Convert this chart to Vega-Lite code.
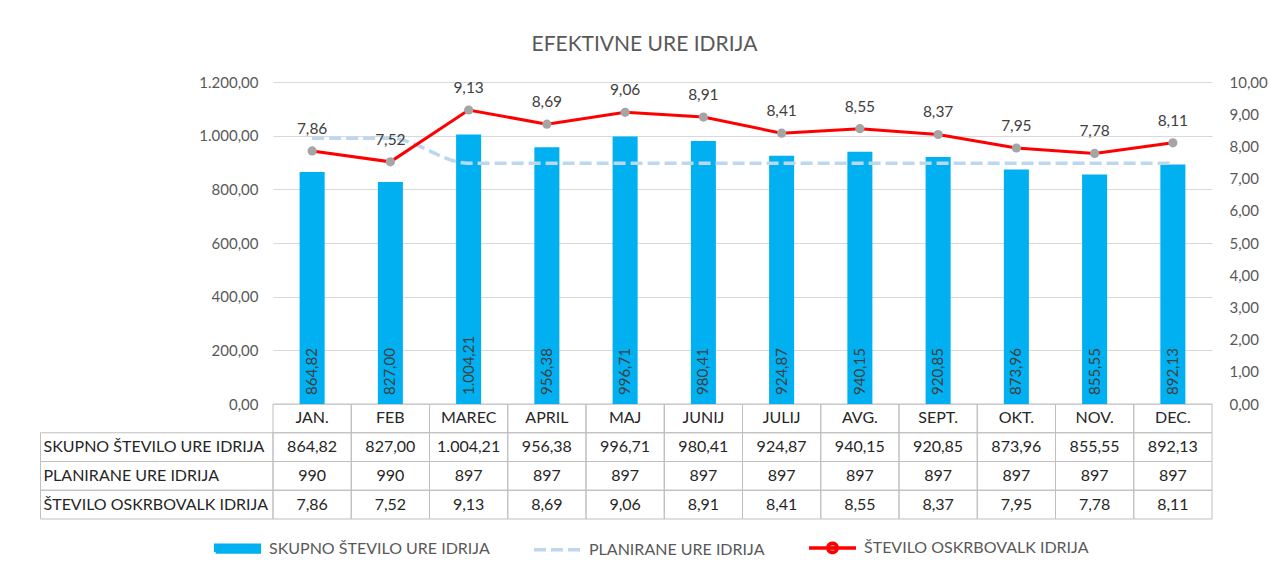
{
  "$schema": "https://vega.github.io/schema/vega-lite/v6.json",
  "width": 939,
  "height": 322,
  "autosize": {"type": "none"},
  "padding": {"left": 273, "top": 82, "right": 58, "bottom": 162},
  "background": "white",
  "title": {
    "text": "EFEKTIVNE URE IDRIJA",
    "font": "Lato",
    "fontSize": 21,
    "fontWeight": "normal",
    "color": "#595959",
    "anchor": "middle",
    "frame": "group",
    "dx": -98,
    "offset": 20
  },
  "config": {
    "font": "Lato",
    "view": {"stroke": null},
    "legend": {"symbolFillColor": "transparent"},
    "locale": {
      "number": {"decimal": ",", "thousands": ".", "grouping": [3], "currency": ["", " €"]}
    }
  },
  "datasets": {
    "mesci": [
      {"mesec": "JAN.", "skupno": 864.82, "planirane": 990, "oskrb": 7.86},
      {"mesec": "FEB", "skupno": 827.00, "planirane": 990, "oskrb": 7.52},
      {"mesec": "MAREC", "skupno": 1004.21, "planirane": 897, "oskrb": 9.13},
      {"mesec": "APRIL", "skupno": 956.38, "planirane": 897, "oskrb": 8.69},
      {"mesec": "MAJ", "skupno": 996.71, "planirane": 897, "oskrb": 9.06},
      {"mesec": "JUNIJ", "skupno": 980.41, "planirane": 897, "oskrb": 8.91},
      {"mesec": "JULIJ", "skupno": 924.87, "planirane": 897, "oskrb": 8.41},
      {"mesec": "AVG.", "skupno": 940.15, "planirane": 897, "oskrb": 8.55},
      {"mesec": "SEPT.", "skupno": 920.85, "planirane": 897, "oskrb": 8.37},
      {"mesec": "OKT.", "skupno": 873.96, "planirane": 897, "oskrb": 7.95},
      {"mesec": "NOV.", "skupno": 855.55, "planirane": 897, "oskrb": 7.78},
      {"mesec": "DEC.", "skupno": 892.13, "planirane": 897, "oskrb": 8.11}
    ],
    "serije": [
      {"kljuc": "skupno", "naziv": "SKUPNO ŠTEVILO URE IDRIJA"},
      {"kljuc": "planirane", "naziv": "PLANIRANE URE IDRIJA"},
      {"kljuc": "oskrb", "naziv": "ŠTEVILO OSKRBOVALK IDRIJA"}
    ]
  },
  "resolve": {"scale": {"x": "independent", "y": "independent"}},
  "layer": [
    {
      "data": {"name": "serije"},
      "mark": {"type": "point", "filled": true, "opacity": 0, "strokeWidth": 3.5},
      "encoding": {
        "fill": {
          "field": "naziv", "type": "nominal",
          "scale": {"domain": ["SKUPNO ŠTEVILO URE IDRIJA", "PLANIRANE URE IDRIJA", "ŠTEVILO OSKRBOVALK IDRIJA"], "range": ["#00B0F0", "transparent", "#A5A5A5"]},
          "legend": {
            "orient": "none", "legendX": -61, "legendY": 440, "direction": "horizontal",
            "title": null, "symbolSize": 2209, "symbolOpacity": 1, "symbolStrokeWidth": 3.5,
            "labelFont": "Lato", "labelFontSize": 16, "labelColor": "#595959", "labelLimit": 400,
            "labelOffset": 6, "columnPadding": 37
          }
        },
        "stroke": {
          "field": "naziv", "type": "nominal",
          "scale": {"domain": ["SKUPNO ŠTEVILO URE IDRIJA", "PLANIRANE URE IDRIJA", "ŠTEVILO OSKRBOVALK IDRIJA"], "range": ["#00B0F0", "#BDD7EE", "#FF0000"]}
        },
        "shape": {
          "field": "naziv", "type": "nominal",
          "scale": {"domain": ["SKUPNO ŠTEVILO URE IDRIJA", "PLANIRANE URE IDRIJA", "ŠTEVILO OSKRBOVALK IDRIJA"], "range": ["M-0.93,-0.14H0.93V0.14H-0.93Z", "M-1,0H1", "M-1,0H1M0.2,0A0.2,0.2,0,1,1,-0.2,0A0.2,0.2,0,1,1,0.2,0"]}
        },
        "strokeDash": {
          "field": "naziv", "type": "nominal",
          "scale": {"domain": ["SKUPNO ŠTEVILO URE IDRIJA", "PLANIRANE URE IDRIJA", "ŠTEVILO OSKRBOVALK IDRIJA"], "range": [[1, 0], [12, 5], [1, 0]]}
        }
      }
    },
    {
      "data": {"name": "mesci"},
      "transform": [{"fold": ["skupno", "planirane", "oskrb"], "as": ["kljuc", "vrednost"]}],
      "mark": {"type": "rect", "fillOpacity": 0, "stroke": "#BFBFBF", "strokeWidth": 1},
      "encoding": {
        "x": {"field": "mesec", "type": "nominal", "sort": null, "axis": null,
              "scale": {"type": "band", "domain": ["JAN.", "FEB", "MAREC", "APRIL", "MAJ", "JUNIJ", "JULIJ", "AVG.", "SEPT.", "OKT.", "NOV.", "DEC."], "paddingInner": 0, "paddingOuter": 0}},
        "y": {"field": "kljuc", "type": "nominal", "axis": null,
              "scale": {"type": "band", "domain": ["hdr", "skupno", "planirane", "oskrb"], "range": [322, 437], "paddingInner": 0, "paddingOuter": 0}}
      }
    },
    {
      "data": {"name": "mesci"},
      "mark": {"type": "rect", "fillOpacity": 0, "stroke": "#BFBFBF", "strokeWidth": 1},
      "encoding": {
        "x": {"field": "mesec", "type": "nominal", "sort": null, "axis": null,
              "scale": {"type": "band", "domain": ["JAN.", "FEB", "MAREC", "APRIL", "MAJ", "JUNIJ", "JULIJ", "AVG.", "SEPT.", "OKT.", "NOV.", "DEC."], "paddingInner": 0, "paddingOuter": 0}},
        "y": {"datum": "hdr", "type": "nominal", "axis": null,
              "scale": {"type": "band", "domain": ["hdr", "skupno", "planirane", "oskrb"], "range": [322, 437], "paddingInner": 0, "paddingOuter": 0}}
      }
    },
    {
      "data": {"name": "serije"},
      "mark": {"type": "rect", "fillOpacity": 0, "stroke": "#BFBFBF", "strokeWidth": 1},
      "encoding": {
        "x": {"datum": "lbl", "type": "nominal", "axis": null,
              "scale": {"type": "band", "domain": ["lbl"], "range": [-232.5, 0], "paddingInner": 0, "paddingOuter": 0}},
        "y": {"field": "kljuc", "type": "nominal", "axis": null,
              "scale": {"type": "band", "domain": ["hdr", "skupno", "planirane", "oskrb"], "range": [322, 437], "paddingInner": 0, "paddingOuter": 0}}
      }
    },
    {
      "data": {"name": "mesci"},
      "mark": {"type": "bar", "color": "#00B0F0", "width": {"band": 0.32}},
      "encoding": {
        "x": {"field": "mesec", "type": "nominal", "sort": null, "axis": null,
              "scale": {"type": "band", "domain": ["JAN.", "FEB", "MAREC", "APRIL", "MAJ", "JUNIJ", "JULIJ", "AVG.", "SEPT.", "OKT.", "NOV.", "DEC."], "paddingInner": 0, "paddingOuter": 0}},
        "y": {"field": "skupno", "type": "quantitative",
              "scale": {"domain": [0, 1200], "nice": false},
              "axis": {"orient": "left", "values": [0, 200, 400, 600, 800, 1000, 1200], "format": ",.2f",
                       "grid": true, "gridColor": "#D9D9D9", "gridWidth": 1, "domain": false, "ticks": false,
                       "labelPadding": 15, "labelFont": "Lato", "labelFontSize": 15, "labelColor": "#595959", "title": null}}
      }
    },
    {
      "data": {"name": "mesci"},
      "mark": {"type": "line", "stroke": "#BDD7EE", "strokeWidth": 3.5, "strokeDash": [12, 5], "interpolate": "monotone"},
      "encoding": {
        "x": {"field": "mesec", "type": "nominal", "sort": null, "axis": null,
              "scale": {"type": "point", "domain": ["JAN.", "FEB", "MAREC", "APRIL", "MAJ", "JUNIJ", "JULIJ", "AVG.", "SEPT.", "OKT.", "NOV.", "DEC."], "padding": 0.5}},
        "y": {"field": "planirane", "type": "quantitative", "scale": {"domain": [0, 1200], "nice": false}, "axis": null}
      }
    },
    {
      "data": {"name": "mesci"},
      "mark": {"type": "line", "stroke": "#FF0000", "strokeWidth": 3},
      "encoding": {
        "x": {"field": "mesec", "type": "nominal", "sort": null, "axis": null,
              "scale": {"type": "point", "domain": ["JAN.", "FEB", "MAREC", "APRIL", "MAJ", "JUNIJ", "JULIJ", "AVG.", "SEPT.", "OKT.", "NOV.", "DEC."], "padding": 0.5}},
        "y": {"field": "oskrb", "type": "quantitative", "scale": {"domain": [0, 10], "nice": false},
              "axis": {"orient": "right", "values": [0, 1, 2, 3, 4, 5, 6, 7, 8, 9, 10], "format": ",.2f",
                       "grid": false, "domain": false, "ticks": false,
                       "labelPadding": 17, "labelFont": "Lato", "labelFontSize": 15, "labelColor": "#595959", "title": null}}
      }
    },
    {
      "data": {"name": "mesci"},
      "mark": {"type": "point", "filled": true, "color": "#A5A5A5", "size": 85, "opacity": 1},
      "encoding": {
        "x": {"field": "mesec", "type": "nominal", "sort": null, "axis": null,
              "scale": {"type": "point", "domain": ["JAN.", "FEB", "MAREC", "APRIL", "MAJ", "JUNIJ", "JULIJ", "AVG.", "SEPT.", "OKT.", "NOV.", "DEC."], "padding": 0.5}},
        "y": {"field": "oskrb", "type": "quantitative", "scale": {"domain": [0, 10], "nice": false}, "axis": null}
      }
    },
    {
      "data": {"name": "mesci"},
      "mark": {"type": "text", "font": "Lato", "fontSize": 15.5, "color": "#404040", "baseline": "alphabetic", "dy": -17},
      "encoding": {
        "x": {"field": "mesec", "type": "nominal", "sort": null, "axis": null,
              "scale": {"type": "point", "domain": ["JAN.", "FEB", "MAREC", "APRIL", "MAJ", "JUNIJ", "JULIJ", "AVG.", "SEPT.", "OKT.", "NOV.", "DEC."], "padding": 0.5}},
        "y": {"field": "oskrb", "type": "quantitative", "scale": {"domain": [0, 10], "nice": false}, "axis": null},
        "text": {"field": "oskrb", "type": "quantitative", "format": ",.2f"}
      }
    },
    {
      "data": {"name": "mesci"},
      "mark": {"type": "text", "font": "Lato", "fontSize": 15, "color": "#404040", "angle": 270, "align": "left", "baseline": "middle", "dx": 9},
      "encoding": {
        "x": {"field": "mesec", "type": "nominal", "sort": null, "axis": null,
              "scale": {"type": "point", "domain": ["JAN.", "FEB", "MAREC", "APRIL", "MAJ", "JUNIJ", "JULIJ", "AVG.", "SEPT.", "OKT.", "NOV.", "DEC."], "padding": 0.5}},
        "y": {"datum": 0, "type": "quantitative", "scale": {"domain": [0, 1200], "nice": false}, "axis": null},
        "text": {"field": "skupno", "type": "quantitative", "format": ",.2f"}
      }
    },
    {
      "data": {"name": "mesci"},
      "mark": {"type": "text", "font": "Lato", "fontSize": 16, "color": "#262626", "baseline": "middle"},
      "encoding": {
        "x": {"field": "mesec", "type": "nominal", "sort": null, "axis": null,
              "scale": {"type": "band", "domain": ["JAN.", "FEB", "MAREC", "APRIL", "MAJ", "JUNIJ", "JULIJ", "AVG.", "SEPT.", "OKT.", "NOV.", "DEC."], "paddingInner": 0, "paddingOuter": 0}},
        "y": {"datum": "hdr", "type": "nominal", "axis": null,
              "scale": {"type": "band", "domain": ["hdr", "skupno", "planirane", "oskrb"], "range": [322, 437], "paddingInner": 0, "paddingOuter": 0}},
        "text": {"field": "mesec", "type": "nominal"}
      }
    },
    {
      "data": {"name": "mesci"},
      "mark": {"type": "text", "font": "Lato", "fontSize": 16, "color": "#262626", "baseline": "middle"},
      "encoding": {
        "x": {"field": "mesec", "type": "nominal", "sort": null, "axis": null,
              "scale": {"type": "band", "domain": ["JAN.", "FEB", "MAREC", "APRIL", "MAJ", "JUNIJ", "JULIJ", "AVG.", "SEPT.", "OKT.", "NOV.", "DEC."], "paddingInner": 0, "paddingOuter": 0}},
        "y": {"datum": "skupno", "type": "nominal", "axis": null,
              "scale": {"type": "band", "domain": ["hdr", "skupno", "planirane", "oskrb"], "range": [322, 437], "paddingInner": 0, "paddingOuter": 0}},
        "text": {"field": "skupno", "type": "quantitative", "format": ",.2f"}
      }
    },
    {
      "data": {"name": "mesci"},
      "mark": {"type": "text", "font": "Lato", "fontSize": 16, "color": "#262626", "baseline": "middle"},
      "encoding": {
        "x": {"field": "mesec", "type": "nominal", "sort": null, "axis": null,
              "scale": {"type": "band", "domain": ["JAN.", "FEB", "MAREC", "APRIL", "MAJ", "JUNIJ", "JULIJ", "AVG.", "SEPT.", "OKT.", "NOV.", "DEC."], "paddingInner": 0, "paddingOuter": 0}},
        "y": {"datum": "planirane", "type": "nominal", "axis": null,
              "scale": {"type": "band", "domain": ["hdr", "skupno", "planirane", "oskrb"], "range": [322, 437], "paddingInner": 0, "paddingOuter": 0}},
        "text": {"field": "planirane", "type": "quantitative", "format": ",.0f"}
      }
    },
    {
      "data": {"name": "mesci"},
      "mark": {"type": "text", "font": "Lato", "fontSize": 16, "color": "#262626", "baseline": "middle"},
      "encoding": {
        "x": {"field": "mesec", "type": "nominal", "sort": null, "axis": null,
              "scale": {"type": "band", "domain": ["JAN.", "FEB", "MAREC", "APRIL", "MAJ", "JUNIJ", "JULIJ", "AVG.", "SEPT.", "OKT.", "NOV.", "DEC."], "paddingInner": 0, "paddingOuter": 0}},
        "y": {"datum": "oskrb", "type": "nominal", "axis": null,
              "scale": {"type": "band", "domain": ["hdr", "skupno", "planirane", "oskrb"], "range": [322, 437], "paddingInner": 0, "paddingOuter": 0}},
        "text": {"field": "oskrb", "type": "quantitative", "format": ",.2f"}
      }
    },
    {
      "data": {"name": "serije"},
      "mark": {"type": "text", "font": "Lato", "fontSize": 16, "color": "#262626", "baseline": "middle", "align": "left", "dx": 3},
      "encoding": {
        "x": {"datum": "lbl", "type": "nominal", "axis": null, "bandPosition": 0,
              "scale": {"type": "band", "domain": ["lbl"], "range": [-232.5, 0], "paddingInner": 0, "paddingOuter": 0}},
        "y": {"field": "kljuc", "type": "nominal", "axis": null,
              "scale": {"type": "band", "domain": ["hdr", "skupno", "planirane", "oskrb"], "range": [322, 437], "paddingInner": 0, "paddingOuter": 0}},
        "text": {"field": "naziv", "type": "nominal"}
      }
    }
  ]
}
